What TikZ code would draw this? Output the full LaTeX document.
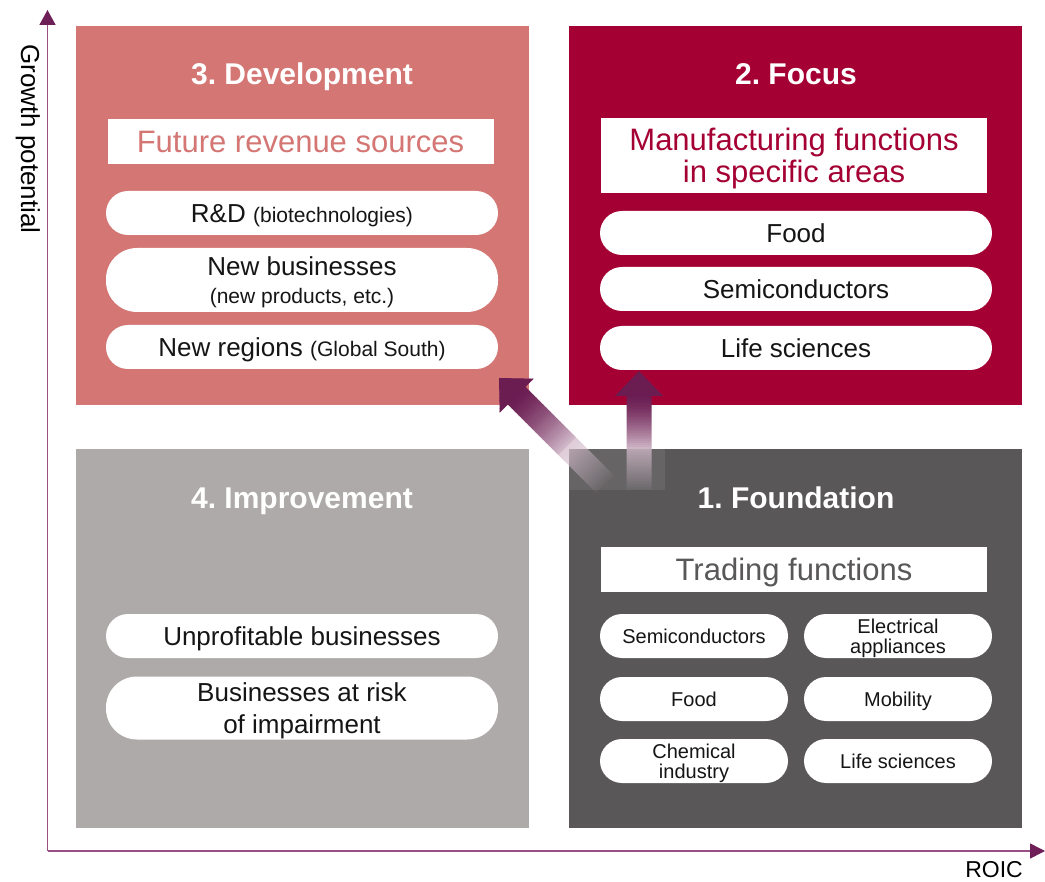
\documentclass[tikz,border=0pt]{standalone}
\usepackage{fontspec}
\setmainfont{Liberation Sans}
\usetikzlibrary{arrows.meta}
\definecolor{devc}{HTML}{D47673}
\definecolor{focc}{HTML}{A50034}
\definecolor{impc}{HTML}{AEAAA9}
\definecolor{fndc}{HTML}{595758}
\definecolor{arrc}{HTML}{6B1D52}
\definecolor{axc}{HTML}{9A4E86}
\definecolor{axtip}{HTML}{6E1F57}
\definecolor{pilltxt}{HTML}{151515}
\newcommand\fsz[2]{\fontsize{#1}{#2}\selectfont}
% #1 = shaft length, #2 = end of opaque part
\newcommand\gradshaft[2]{%
  \clip (0,0) -- (24,25) -- (12.5,25) -- (12.5,#1) -- (-12.5,#1) -- (-12.5,25) -- (-24,25) -- cycle;
  \foreach \t in {0,2,...,#1} {
    \pgfmathsetmacro\ss{min(max(\t-25,0.5),#2-25)/(#2-25)}
    \pgfmathtruncatemacro\pp{\t<25 ? 100 : (\t<#2 ? 100-70*(\ss)^1.4 : 30)}
    \pgfmathsetmacro\aa{\t<#2 ? 1 : 0.75-0.72*(\t-#2)/(#1-#2)}
    \pgfmathsetmacro\hh{\t<#2 ? 2.5 : 2}
    \fill[arrc!\pp!white, opacity=\aa] (-25,\t) rectangle (25,\t+\hh);
  }}
\frenchspacing
\begin{document}
\begin{tikzpicture}[x=1pt,y=-1pt,
  quad/.style={inner sep=0pt, outer sep=0pt, minimum width=453pt, minimum height=379pt},
  ttl/.style={anchor=base, text=white, font=\fsz{30}{36}\bfseries},
  hbox/.style={fill=white, inner sep=0pt, minimum width=386pt, align=center, font=\fsz{31}{32}, text height=22pt, text depth=0pt},
  pill/.style={fill=white, inner sep=0pt, minimum width=392pt, minimum height=44pt, rounded corners=22pt, align=center, text=pilltxt, font=\fsz{26}{30}, text height=18.6pt, text depth=0pt},
  pilltwo/.style={pill, minimum height=64pt, rounded corners=31pt},
  spill/.style={pill, minimum width=188pt, font=\fsz{20}{20}, text height=14.3pt},
  axis/.style={axc, line width=1.6pt}
]
\useasboundingbox (0,0) rectangle (1045,882);
\fill[white] (0,0) rectangle (1045,882);

% quadrants
\node[quad, fill=devc] (q3) at (302.5,215.5) {};
\node[quad, fill=focc] (q2) at (795.5,215.5) {};
\node[quad, fill=impc] (q4) at (302.5,638.5) {};
\node[quad, fill=fndc] (q1) at (795.5,638.5) {};
\fill[white, opacity=0.08] (569,449) rectangle (665,490);

% titles
\node[ttl] (t3) at (302,85) {3. Development};
\node[ttl] (t2) at (796,85) {2. Focus};
\node[ttl] (t4) at (302,509) {4. Improvement};
\node[ttl] (t1) at (796,509) {1. Foundation};

% header boxes
\node[hbox, text=devc, minimum height=45pt] (h3) at (300.5,141.5) {Future revenue sources};
\node[hbox, text=focc, minimum height=75pt, text height=54pt] (h2) at (794,155.5) {Manufacturing functions\\in specific areas};
\node[hbox, text=fndc, minimum height=45pt] (h1) at (794,569.5) {Trading functions};

% development pills
\node[pill] (rd) at (302,213) {R\&D {\fsz{21}{25}(biotechnologies)}};
\node[pilltwo, font=\fsz{26}{28}, text height=46.6pt] (nb) at (302,280) {New businesses\\{\fsz{21}{28}(new products, etc.)}};
\node[pill] (nr) at (302,347) {New regions {\fsz{21}{25}(Global South)}};

% focus pills
\node[pill] (ff) at (796,233) {Food};
\node[pill] (fs) at (796,289) {Semiconductors};
\node[pill] (fl) at (796,348) {Life sciences};

% improvement pills
\node[pill] (iu) at (302,636) {Unprofitable businesses};
\node[pilltwo, minimum height=63pt, font=\fsz{26}{32}, text height=50.6pt] (ib) at (302,708) {Businesses at risk\\of impairment};

% foundation pills
\node[spill] (fa) at (694,636) {Semiconductors};
\node[spill, text height=34.3pt] (fb) at (898,636) {Electrical\\appliances};
\node[spill] (fc) at (694,699) {Food};
\node[spill] (fd) at (898,699) {Mobility};
\node[spill, text height=34.3pt] (fe) at (694,761) {Chemical\\industry};
\node[spill] (fg) at (898,761) {Life sciences};

% gradient arrows
\begin{scope}[shift={(639,371)}]
  \gradshaft{119}{78}
\end{scope}
\begin{scope}[shift={(499,378)}, rotate=45]
  \gradshaft{150}{96}
\end{scope}

% axes
\coordinate (o) at (47.5,851);
\coordinate (ytip) at (47.5,10);
\coordinate (xtip) at (1045,851);
\draw[axis, -{Triangle[length=15pt,width=16pt,color=axtip]}] (o) -- (ytip);
\draw[axis, -{Triangle[length=15pt,width=15pt,color=axtip]}] (o) -- (xtip);
\node[rotate=-90, anchor=base, font=\fsz{26}{30}] (gp) at (21,139) {Growth potential};
\node[anchor=base, font=\fsz{23}{28}] (roic) at (994,877) {ROIC};
\end{tikzpicture}
\end{document}
